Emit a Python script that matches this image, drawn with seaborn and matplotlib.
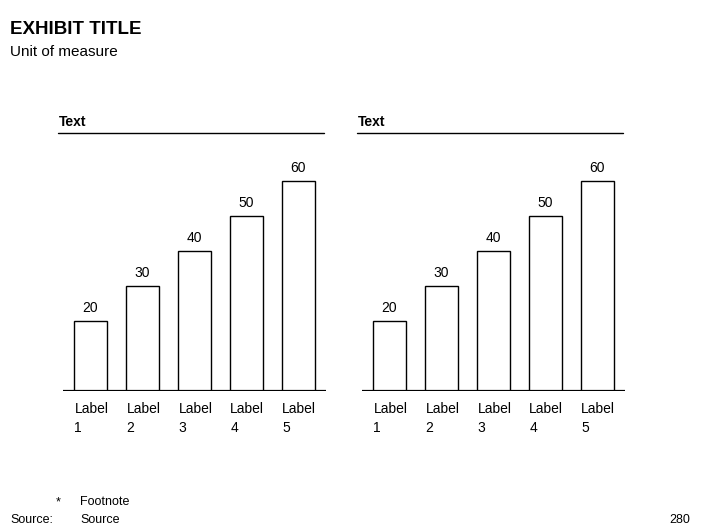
import matplotlib
matplotlib.use("Agg")
import matplotlib.pyplot as plt
import matplotlib.transforms as mtransforms
import seaborn as sns
import pandas as pd

# chart data
labels = ["Label\n1", "Label\n2", "Label\n3", "Label\n4", "Label\n5"]
left_values = [20, 30, 40, 50, 60]
right_values = [20, 30, 40, 50, 60]
panel_titles = ["Text", "Text"]

title = "EXHIBIT TITLE"
subtitle = "Unit of measure"
footnote = "Footnote"
source = "Source"
page_no = "280"

sns.set_theme(style="white")
plt.rcParams["font.family"] = ["Liberation Sans", "DejaVu Sans"]
plt.rcParams["text.color"] = "black"

fig = plt.figure(figsize=(7.06, 5.29), dpi=100)
fig.patch.set_facecolor("white")

bar_w = 0.635
axes_pos = [
    [63 / 706, 1 - 391 / 529, 263 / 706, 231 / 529],
    [362 / 706, 1 - 391 / 529, 263 / 706, 231 / 529],
]

for pos, vals, ptitle in zip(axes_pos, [left_values, right_values], panel_titles):
    ax = fig.add_axes(pos)
    df = pd.DataFrame({"label": labels, "value": vals})
    sns.barplot(data=df, x="label", y="value", color="white", edgecolor="black",
                linewidth=1, width=bar_w, saturation=1, ax=ax)
    ax.set_xlim(-0.53, 4.53)
    ax.set_ylim(0, 66)
    for s in ax.spines.values():
        s.set_visible(False)
    ax.set_xticks([])
    ax.set_yticks([])
    ax.set_xlabel("")
    ax.set_ylabel("")
    ax.set_facecolor("white")
    ax.axhline(0, color="black", lw=1.6, zorder=5)
    ax.bar_label(ax.containers[0], padding=4, fontsize=10, color="black")

    # category labels, left aligned under each bar
    trans = mtransforms.blended_transform_factory(ax.transData, ax.transAxes)
    for i, lab in enumerate(labels):
        ax.text(i - 0.31, -0.048, lab, transform=trans, ha="left", va="top",
                fontsize=10, linespacing=1.45, color="black")

    # panel header with rule underneath
    ax.text(-0.015, 1.165, ptitle, transform=ax.transAxes, ha="left",
            va="center", fontsize=10, fontweight="bold", color="black")
    ax.plot([-0.019, 0.992], [1.117, 1.117], color="black", lw=1,
            transform=ax.transAxes, clip_on=False)

fig.text(10 / 706, 1 - 30 / 529, title, fontsize=13.5, fontweight="bold",
         ha="left", va="center")
fig.text(10 / 706, 1 - 52 / 529, subtitle, fontsize=11, ha="left", va="center")

fig.text(56 / 706, 1 - 502 / 529, "*", fontsize=9, ha="left", va="center")
fig.text(80 / 706, 1 - 502 / 529, footnote, fontsize=9, ha="left", va="center")
fig.text(10 / 706, 1 - 520 / 529, "Source:", fontsize=9, ha="left", va="center")
fig.text(80 / 706, 1 - 520 / 529, source, fontsize=9, ha="left", va="center")
fig.text(690 / 706, 1 - 520 / 529, page_no, fontsize=9, ha="right", va="center")

fig.savefig("out.png", dpi=100, facecolor="white")
